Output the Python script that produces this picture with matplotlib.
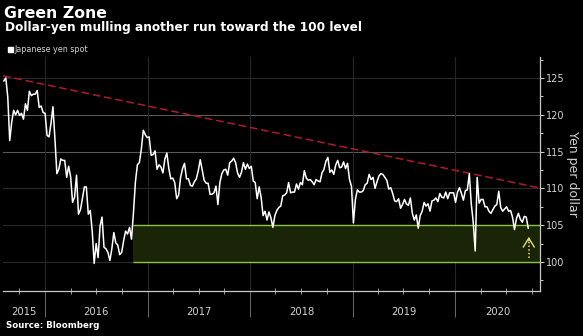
import matplotlib
matplotlib.use("Agg")
import matplotlib.pyplot as plt
import matplotlib.dates as mdates
from matplotlib.ticker import MultipleLocator, FixedLocator
from matplotlib.transforms import blended_transform_factory
import pandas as pd

# Weekly (Friday) USD/JPY spot, yen per dollar
start_week = "2015-08-07"
usdjpy_2015 = [124.6, 125.0, 122.4, 116.5, 119.0, 120.6, 120.0, 120.6, 119.9, 120.2,
               119.4, 121.5, 120.6, 123.2, 122.6, 122.8, 122.8, 123.3, 121.0, 121.2, 120.3]
usdjpy_2016 = [120.2, 117.2, 117.0, 118.8, 121.1, 116.8, 112.0, 112.6, 114.0, 113.8,
               113.8, 111.5, 113.0, 111.6, 108.1, 108.8, 111.8, 106.5, 107.1, 108.6,
               110.2, 110.2, 106.5, 107.0, 104.2, 99.8, 102.5, 100.6, 104.9, 106.1,
               102.0, 101.8, 101.3, 100.2, 101.8, 104.0, 102.6, 102.3, 101.0, 101.3,
               102.9, 104.2, 103.8, 104.7, 103.1, 106.7, 110.9, 113.2, 113.5, 115.3,
               117.9, 117.3, 116.9]
usdjpy_2017 = [117.0, 114.5, 114.6, 115.1, 112.6, 113.2, 112.9, 112.1, 114.0, 114.8,
               112.7, 111.3, 111.4, 110.8, 108.6, 109.1, 111.5, 112.7, 113.4, 111.3,
               111.3, 110.4, 110.3, 110.9, 111.3, 112.4, 113.9, 112.5, 111.1, 110.7,
               110.7, 109.2, 109.2, 109.4, 110.3, 107.8, 110.8, 112.0, 112.5, 112.6,
               111.8, 113.5, 113.7, 114.1, 113.5, 112.1, 111.5, 112.2, 113.5, 112.6,
               113.3, 112.7]
usdjpy_2018 = [113.0, 111.0, 110.8, 108.6, 110.2, 108.8, 106.3, 106.9, 105.7, 106.8,
               106.0, 104.7, 106.3, 107.0, 107.4, 107.6, 109.0, 109.1, 109.4, 110.8,
               109.4, 109.5, 109.5, 110.6, 109.9, 110.8, 110.5, 112.4, 111.4, 111.1,
               111.2, 110.9, 110.5, 111.2, 111.0, 110.9, 112.1, 112.6, 113.7, 114.2,
               112.2, 112.5, 111.9, 113.2, 113.8, 112.8, 112.9, 113.6, 112.7, 113.4,
               111.2, 110.3]
usdjpy_2019 = [105.3, 108.5, 109.8, 109.5, 109.5, 109.7, 110.5, 110.7, 111.9, 111.2,
               111.5, 110.0, 110.9, 111.7, 112.0, 111.9, 111.5, 111.1, 109.9, 110.1,
               109.3, 108.3, 108.2, 108.6, 107.3, 107.8, 108.5, 107.9, 107.7, 108.7,
               106.6, 105.7, 106.4, 104.6, 106.3, 106.9, 108.1, 107.6, 107.9, 106.9,
               108.3, 108.4, 108.7, 108.2, 109.3, 108.8, 108.7, 109.5, 108.6, 109.4,
               109.4, 109.4]
usdjpy_2020 = [108.1, 109.5, 110.1, 109.3, 108.4, 109.7, 109.8, 112.0, 107.9, 105.4,
               101.5, 111.5, 108.0, 108.5, 108.5, 107.5, 107.5, 106.9, 106.6, 107.1,
               107.6, 107.8, 109.6, 107.4, 106.9, 107.2, 107.5, 106.9, 107.0, 106.1,
               104.4, 105.9, 106.6, 105.8, 105.4, 106.2, 106.1, 104.6]

usdjpy = (usdjpy_2015 + usdjpy_2016 + usdjpy_2017 + usdjpy_2018
          + usdjpy_2019 + usdjpy_2020)
weeks = pd.date_range(start_week, periods=len(usdjpy), freq="W-FRI")

# Downward resistance line and the 100-105 "green zone"
trend_dates = [pd.Timestamp("2015-08-04"), pd.Timestamp("2020-10-30")]
trend_values = [125.3, 110.05]
zone_start = pd.Timestamp("2016-11-09")
zone_low, zone_high = 100, 105
arrow_date = pd.Timestamp("2020-09-20")
arrow_from, arrow_to = 100.6, 103.8

years = [2015, 2016, 2017, 2018, 2019, 2020]
y_ticks = [100, 105, 110, 115, 120, 125]

BG = "black"
TXT = "#d2d2d2"
GREEN = "#8cc43c"
ZONE = "#1a2507"
RED = "#b01a2c"
ARROW = "#e2dc78"

fig = plt.figure(figsize=(5.83, 3.36), dpi=100, facecolor=BG)
ax = fig.add_axes([3 / 583, 45 / 336, 537 / 583, 234 / 336], facecolor=BG)

x_left, x_right = trend_dates
ax.set_xlim(x_left, x_right)
ax.set_ylim(96.06, 127.85)

# gridlines
for v in y_ticks:
    c = "#5a5a5a" if v in (115, 120) else "#2a2a2a"
    ax.axhline(v, color=c, lw=0.8, zorder=1)
for yr in years[1:]:
    ax.axvline(pd.Timestamp(f"{yr}-01-01"), color="#262626", lw=0.8, zorder=1)

# green zone
ax.fill_between([zone_start, x_right], zone_low, zone_high, color=ZONE, lw=0, zorder=2)
ax.hlines([zone_low, zone_high], zone_start, x_right, color=GREEN, lw=1.0, zorder=3)

# resistance line
ax.plot(trend_dates, trend_values, color=RED, lw=1.1, dashes=(5, 2.5), zorder=4)

# spot series
ax.plot(weeks, usdjpy, color="white", lw=1.1, zorder=5)

# arrow toward 100
ax.plot([arrow_date, arrow_date], [arrow_from, arrow_to - 0.4], color=ARROW,
        lw=1.1, ls=(0, (1, 1.4)), zorder=6)
ax.annotate("", xy=(arrow_date, arrow_to), xytext=(arrow_date, arrow_to - 1.3),
            arrowprops=dict(arrowstyle="->,head_length=0.65,head_width=0.4",
                            color=ARROW, lw=1.0), zorder=6)

# axes styling
for s in ("left", "top"):
    ax.spines[s].set_visible(False)
for s in ("right", "bottom"):
    ax.spines[s].set_color("#c8c8c8")
    ax.spines[s].set_linewidth(0.9)

ax.yaxis.tick_right()
ax.yaxis.set_major_locator(FixedLocator(y_ticks))
ax.yaxis.set_minor_locator(MultipleLocator(2.5))
ax.tick_params(axis="y", which="major", direction="out", length=3, width=0.8,
               colors="#c8c8c8", labelcolor=TXT, labelsize=7, pad=1.5)
ax.tick_params(axis="y", which="minor", direction="out", length=2, width=0.7,
               colors="#c8c8c8")
ax.set_ylabel("Yen per dollar", rotation=270, color=TXT, fontsize=9, labelpad=10)
ax.yaxis.set_label_position("right")

ax.xaxis.set_major_locator(mdates.YearLocator())
ax.xaxis.set_minor_locator(mdates.MonthLocator(bymonth=(4, 7, 10)))
ax.xaxis.set_major_formatter(plt.NullFormatter())
ax.tick_params(axis="x", which="major", direction="out", length=19, width=0.7,
               colors="#6a6a6a")
ax.tick_params(axis="x", which="minor", direction="inout", length=4, width=0.7,
               colors="#9a9a9a")

# year labels centred in each year's span
trans = blended_transform_factory(ax.transData, ax.transAxes)
for yr in years:
    a = max(pd.Timestamp(f"{yr}-01-01"), x_left)
    b = min(pd.Timestamp(f"{yr + 1}-01-01"), x_right)
    mid = a + (b - a) / 2
    ax.text(mid, -0.088, str(yr), transform=trans, ha="center", va="center",
            color=TXT, fontsize=7.2)

# titles, legend, source
fig.text(4 / 583, 1 - 18 / 336, "Green Zone", color="white", fontsize=11.3,
         fontweight="bold", va="baseline", ha="left")
fig.text(5 / 583, 1 - 30.5 / 336, "Dollar-yen mulling another run toward the 100 level",
         color="white", fontsize=8.7, fontweight="bold", va="baseline", ha="left")
fig.patches.append(plt.Rectangle((8 / 583, 1 - 51.5 / 336), 4.5 / 583, 4.5 / 336,
                                 transform=fig.transFigure, color="white"))
fig.text(14.5 / 583, 1 - 49 / 336, "Japanese yen spot", color=TXT, fontsize=5.8,
         va="center", ha="left")
fig.text(5.5 / 583, 1 - 325 / 336, "Source: Bloomberg", color="white", fontsize=6.2,
         fontweight="bold", va="center", ha="left")

fig.savefig("out.png", dpi=100, facecolor=BG)
